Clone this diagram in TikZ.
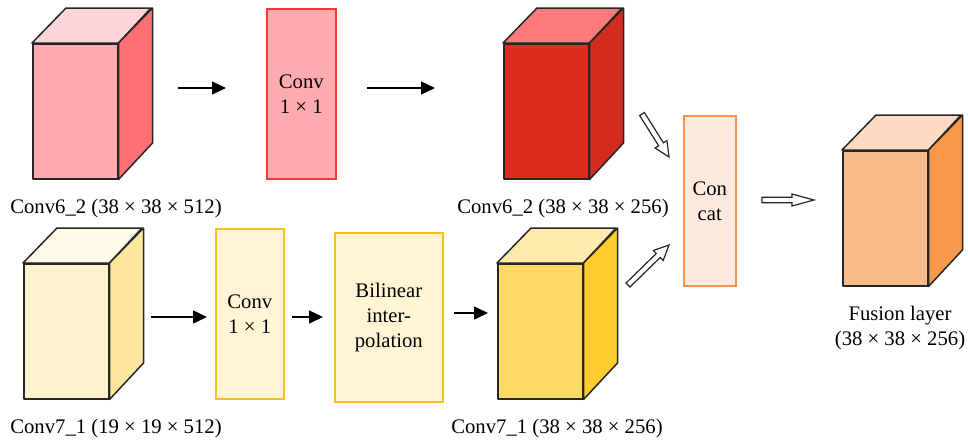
\documentclass[tikz,border=0pt]{standalone}
\usepackage{fontspec}
\setmainfont{Liberation Serif}
\usetikzlibrary{calc,arrows.meta}

% face colours of the blocks
\definecolor{pinkfront}{HTML}{FFABB0}
\definecolor{pinktop}{HTML}{FFD5DA}
\definecolor{pinkside}{HTML}{FF7074}
\definecolor{redline}{HTML}{EE3B33}
\definecolor{redfront}{HTML}{DE2D1E}
\definecolor{redtop}{HTML}{FF7B7B}
\definecolor{redside}{HTML}{D42B1F}
\definecolor{creamfront}{HTML}{FFF3CE}
\definecolor{creamtop}{HTML}{FFF9E8}
\definecolor{creamside}{HTML}{FFE69D}
\definecolor{opfill}{HTML}{FFF4D4}
\definecolor{opline}{HTML}{F8C21B}
\definecolor{goldfront}{HTML}{FFD966}
\definecolor{goldtop}{HTML}{FFEBAE}
\definecolor{goldside}{HTML}{FFCC2E}
\definecolor{catfill}{HTML}{FDEADD}
\definecolor{catline}{HTML}{F7924A}
\definecolor{fusefront}{HTML}{F9BB8A}
\definecolor{fusetop}{HTML}{FCDBC2}
\definecolor{fuseside}{HTML}{F7984C}

\tikzset{
  lbl/.style={font=\fontsize{20.7}{25}\selectfont, inner sep=0pt},
  face/.style={draw=black!85, line width=1.5pt, line join=round},
  opbox/.style={line width=1.6pt, align=center, inner sep=0pt, anchor=north west,
                font=\fontsize{20.7}{25}\selectfont},
  flow/.style={line width=1.5pt, -{Triangle[length=14pt,width=13pt]}},
  hollow/.style={draw=black!85, fill=white, line width=1.2pt, line join=miter},
}

% a feature block drawn as a box: name, x, y, width, height, front, top, side
\newcommand{\blockcube}[8]{%
  \node[face, fill=#6, minimum width=#4pt, minimum height=#5pt, inner sep=0pt,
        anchor=north west] (#1) at (#2,#3) {};
  \draw[face, fill=#7] (#1.north west) -- ++(34,-35) -- ++(#4,0) -- (#1.north east) -- cycle;
  \draw[face, fill=#8] (#1.north east) -- ++(34,-35) -- ++(0,#5) -- (#1.south east) -- cycle;
}

% outlined block arrow: from, to, head length, head half-width
\newcommand{\hollowarrow}[4]{%
  \coordinate (hb) at ($(#2)!#3pt!(#1)$);
  \draw[hollow] ($(#1)!2.8pt!90:(#2)$) -- ($(hb)!2.8pt!90:(#2)$) -- ($(hb)!#4pt!90:(#2)$)
    -- (#2) -- ($(hb)!#4pt!-90:(#2)$) -- ($(hb)!2.8pt!-90:(#2)$) -- ($(#1)!2.8pt!-90:(#2)$) -- cycle;
}

\begin{document}
\begin{tikzpicture}[x=1pt, y=-1pt]
\useasboundingbox (0,0) rectangle (968,440);

% upper branch
\blockcube{c62}{32}{43}{85}{135}{pinkfront}{pinktop}{pinkside}
\node[opbox, draw=redline, fill=pinkfront, minimum width=69pt, minimum height=170pt]
  (conva) at (266,8) {Conv\\1 × 1};
\blockcube{c62b}{503}{43}{85}{135}{redfront}{redtop}{redside}

% lower branch
\blockcube{c71}{23}{263}{85}{135}{creamfront}{creamtop}{creamside}
\node[opbox, draw=opline, fill=opfill, minimum width=68pt, minimum height=170pt]
  (convb) at (215,228) {Conv\\1 × 1};
\node[opbox, draw=opline, fill=opfill, minimum width=108pt, minimum height=169pt]
  (bil) at (334,232) {Bilinear\\inter-\\polation};
\blockcube{c71b}{497}{263}{85}{135}{goldfront}{goldtop}{goldside}

% concatenation and fused output
\node[opbox, draw=catline, fill=catfill, minimum width=52pt, minimum height=170pt]
  (cat) at (683,115) {Con\\cat};
\blockcube{fuse}{842}{150}{85}{135}{fusefront}{fusetop}{fuseside}

% captions
\node[lbl, anchor=base] (t1) at (116,213) {Conv6\_2 (38 × 38 × 512)};
\node[lbl, anchor=base] (t2) at (563,213) {Conv6\_2 (38 × 38 × 256)};
\node[lbl, anchor=base] (t3) at (116,433) {Conv7\_1 (19 × 19 × 512)};
\node[lbl, anchor=base] (t4) at (557,433) {Conv7\_1 (38 × 38 × 256)};
\node[lbl, anchor=base] (t5) at (900,320) {Fusion layer};
\node[lbl, anchor=base] (t6) at (900,345) {(38 × 38 × 256)};

% arrow end points
\coordinate (f1s) at (178,88);  \coordinate (f1e) at (226,88);
\coordinate (f2s) at (367,88);  \coordinate (f2e) at (435,88);
\coordinate (f3s) at (151,317); \coordinate (f3e) at (207,317);
\coordinate (f4s) at (292,317); \coordinate (f4e) at (323,317);
\coordinate (f5s) at (454,313); \coordinate (f5e) at (488,313);
\coordinate (h1s) at (642,114); \coordinate (h1e) at (669,157);
\coordinate (h2s) at (628,285); \coordinate (h2e) at (669,245);
\coordinate (h3s) at (762,200); \coordinate (h3e) at (814,200);

\draw[flow] (f1s) -- (f1e);
\draw[flow] (f2s) -- (f2e);
\draw[flow] (f3s) -- (f3e);
\draw[flow] (f4s) -- (f4e);
\draw[flow] (f5s) -- (f5e);

\hollowarrow{h1s}{h1e}{15}{7}
\hollowarrow{h2s}{h2e}{15}{7}
\hollowarrow{h3s}{h3e}{22}{6}
\end{tikzpicture}
\end{document}
